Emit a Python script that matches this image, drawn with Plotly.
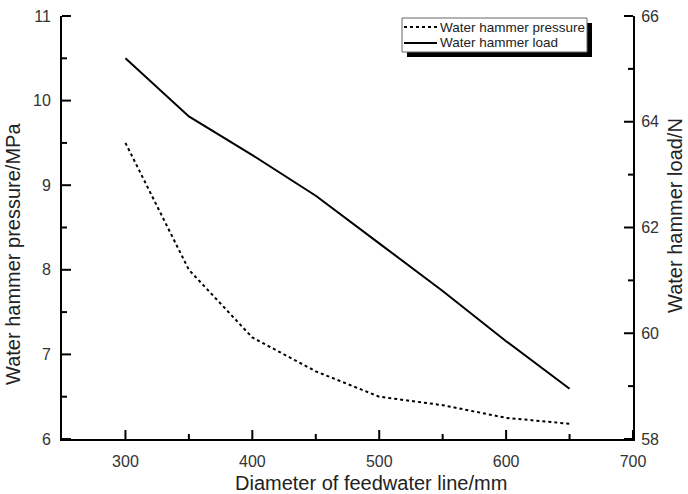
import plotly.graph_objects as go

diameter = [300, 350, 400, 450, 500, 550, 600, 650]
pressure = [9.5, 8.0, 7.2, 6.8, 6.5, 6.4, 6.25, 6.18]
load = [65.2, 64.1, 63.37, 62.6, 61.7, 60.8, 59.85, 58.95]
series_names = ["Water hammer pressure", "Water hammer load"]

x_range = [250, 700]
y_range = [6, 11]
y2_range = [58, 66]
x_major = [300, 400, 500, 600, 700]
x_minor = [350, 450, 550, 650]
y_major = [6, 7, 8, 9, 10, 11]
y_minor = [6.5, 7.5, 8.5, 9.5, 10.5]
y2_major = [58, 60, 62, 64, 66]
y2_minor = [59, 61, 63, 65]

FONT = "Liberation Sans, Arial, sans-serif"
TXT = "#222"

fig = go.Figure()
fig.add_trace(go.Scatter(x=diameter, y=pressure, mode="lines", name=series_names[0],
                         line=dict(color="black", width=2, dash="3px,3px")))
fig.add_trace(go.Scatter(x=diameter, y=load, mode="lines", name=series_names[1],
                         yaxis="y2", line=dict(color="black", width=2)))

L, R, T, B = 62, 55, 16, 55
W, H = 688, 494
pw, ph = W - L - R, H - T - B


def px(xp):
    return (xp - L) / pw


def py(yp):
    return (H - B - yp) / ph


def frac(v, rng):
    return (v - rng[0]) / (rng[1] - rng[0])


def ax(**kw):
    d = dict(showline=True, linecolor="black", linewidth=2, ticks="",
             showgrid=False, zeroline=False, automargin=False,
             tickfont=dict(family=FONT, size=16, color="#333"), tickmode="array")
    d.update(kw)
    return d


fig.update_layout(
    template="none",
    width=W, height=H,
    margin=dict(l=L, r=R, t=T, b=B),
    paper_bgcolor="white", plot_bgcolor="white",
    font=dict(family=FONT, color=TXT),
    showlegend=False,
    xaxis=ax(range=x_range, tickvals=x_major, ticklabelstandoff=7),
    yaxis=ax(range=y_range, tickvals=y_major, ticklabelstandoff=6),
    yaxis2=ax(range=y2_range, tickvals=y2_major, overlaying="y", side="right",
              ticklabelstandoff=3),
)

# inside tick marks (major and minor), drawn in paper space from the axis ranges
MAJ, MIN = 9, 5
tick_line = dict(color="black", width=2)
for vals, ln in [(x_major, MAJ), (x_minor, MIN)]:
    for v in vals:
        f = frac(v, x_range)
        fig.add_shape(type="line", xref="paper", yref="paper", x0=f, x1=f, y0=0, y1=ln / ph,
                      line=tick_line, layer="above")
for vals, ln in [(y_major, MAJ), (y_minor, MIN)]:
    for v in vals:
        f = frac(v, y_range)
        fig.add_shape(type="line", xref="paper", yref="paper", x0=0, x1=ln / pw, y0=f, y1=f,
                      line=tick_line, layer="above")
for vals, ln in [(y2_major, MAJ), (y2_minor, MIN)]:
    for v in vals:
        f = frac(v, y2_range)
        fig.add_shape(type="line", xref="paper", yref="paper", x0=1 - ln / pw, x1=1, y0=f, y1=f,
                      line=tick_line, layer="above")

# axis titles
fig.add_annotation(text="Diameter of feedwater line/mm", xref="paper", yref="paper",
                   x=px(371), y=py(483), showarrow=False, xanchor="center", yanchor="middle",
                   font=dict(family=FONT, size=20, color=TXT))
fig.add_annotation(text="Water hammer pressure/MPa", xref="paper", yref="paper",
                   x=px(13), y=py(254), showarrow=False, xanchor="center", yanchor="middle",
                   textangle=-90, font=dict(family=FONT, size=20, color=TXT))
fig.add_annotation(text="Water hammer load/N", xref="paper", yref="paper",
                   x=px(675), y=py(216), showarrow=False, xanchor="center", yanchor="middle",
                   textangle=-90, font=dict(family=FONT, size=20, color=TXT))

# legend (box with drop shadow)
fig.add_shape(type="rect", xref="paper", yref="paper",
              x0=px(407), x1=px(592), y0=py(57), y1=py(23),
              fillcolor="black", line=dict(width=0), layer="above")
fig.add_shape(type="rect", xref="paper", yref="paper",
              x0=px(402), x1=px(587), y0=py(52), y1=py(18),
              fillcolor="white", line=dict(color="#666", width=1), layer="above")
for i, (yy, dash) in enumerate([(27, "3px,3px"), (43, "solid")]):
    fig.add_shape(type="line", xref="paper", yref="paper",
                  x0=px(404), x1=px(437), y0=py(yy), y1=py(yy),
                  line=dict(color="black", width=2, dash=dash), layer="above")
    fig.add_annotation(text=series_names[i], xref="paper", yref="paper",
                       x=px(438), y=py(yy), showarrow=False, xanchor="left", yanchor="middle",
                       font=dict(family=FONT, size=13.5, color=TXT))

fig.write_html("out.html")
